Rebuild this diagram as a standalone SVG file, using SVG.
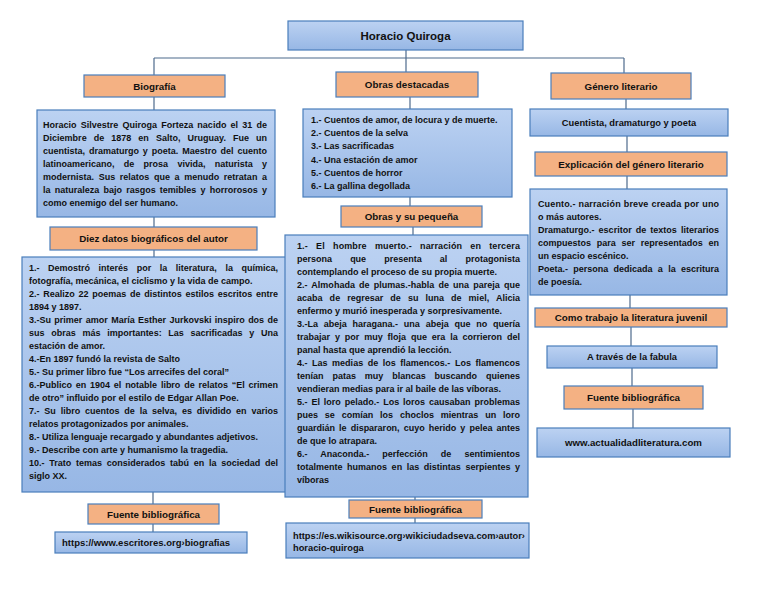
<svg xmlns="http://www.w3.org/2000/svg" width="768" height="594" viewBox="0 0 768 594">
<defs>
<linearGradient id="gb" x1="0" y1="0" x2="0" y2="1">
<stop offset="0" stop-color="#bcd2f2"/>
<stop offset="1" stop-color="#97b7e5"/>
</linearGradient>
</defs>
<style>
.bx{fill:url(#gb);stroke:#4a7ebb;stroke-width:1.2}
.ob{fill:#f4b183;stroke:#4a7ebb;stroke-width:1.2}
.t{font-family:"Liberation Sans",Arial,sans-serif;font-weight:bold;font-size:9px;fill:#111}
.h{font-size:9.8px;text-anchor:middle}
.m{text-anchor:middle}
.c line{stroke:#4d6a8c;stroke-width:1.2}
</style>
<rect width="768" height="594" fill="#fff"/>
<g class="c" id="connectors">
<line x1="406" y1="50" x2="406" y2="72"/>
<line x1="154" y1="58" x2="624" y2="58"/>
<line x1="154" y1="58" x2="154" y2="75"/>
<line x1="624" y1="58" x2="624" y2="73"/>
<line x1="154" y1="97" x2="154" y2="110"/>
<line x1="154" y1="217" x2="154" y2="227"/>
<line x1="154" y1="250" x2="154" y2="257"/>
<line x1="153" y1="492" x2="153" y2="504"/>
<line x1="153" y1="524" x2="153" y2="532"/>
<line x1="410" y1="97" x2="410" y2="109"/>
<line x1="410" y1="197" x2="410" y2="206"/>
<line x1="413" y1="227" x2="413" y2="235"/>
<line x1="415" y1="497" x2="415" y2="500"/>
<line x1="415" y1="518" x2="415" y2="523"/>
<line x1="626" y1="99" x2="626" y2="109"/>
<line x1="627" y1="136" x2="627" y2="152"/>
<line x1="627" y1="176" x2="627" y2="189"/>
<line x1="630" y1="295" x2="630" y2="308"/>
<line x1="631" y1="327" x2="631" y2="346"/>
<line x1="632" y1="368" x2="632" y2="386"/>
<line x1="633" y1="409" x2="633" y2="428"/>
</g>
<g id="title">
<rect class="bx" x="288" y="21" width="235" height="29"/>
<text class="t m" x="405.5" y="39.5" style="font-size:11.5px">Horacio Quiroga</text>
</g>
<g id="biografia">
<rect class="ob" x="84" y="75" width="141" height="22"/>
<text class="t h" x="154.5" y="89.5">Biografía</text>
</g>
<g id="obras-destacadas">
<rect class="ob" x="336" y="72" width="142" height="25"/>
<text class="t h" x="407" y="88">Obras destacadas</text>
</g>
<g id="genero-literario">
<rect class="ob" x="551" y="73" width="140" height="26"/>
<text class="t h" x="621" y="89.5">Género literario</text>
</g>
<g id="bio-texto">
<rect class="bx" x="37" y="110" width="238" height="107"/>
<text class="t" x="43" y="127.5" textLength="224" lengthAdjust="spacing" style="word-spacing:1.7px">Horacio Silvestre Quiroga Forteza nacido el 31 de</text>
<text class="t" x="43" y="140.5" textLength="224" lengthAdjust="spacing" style="word-spacing:4.5px">Diciembre de 1878 en Salto, Uruguay. Fue un</text>
<text class="t" x="43" y="153.5" textLength="224" lengthAdjust="spacing" style="word-spacing:1.4px">cuentista, dramaturgo y poeta. Maestro del cuento</text>
<text class="t" x="43" y="166.5" textLength="224" lengthAdjust="spacing" style="word-spacing:6.8px">latinoamericano, de prosa vivida, naturista y</text>
<text class="t" x="43" y="179.5" textLength="224" lengthAdjust="spacing" style="word-spacing:2.1px">modernista. Sus relatos que a menudo retratan a</text>
<text class="t" x="43" y="192.5" textLength="224" lengthAdjust="spacing" style="word-spacing:1.7px">la naturaleza bajo rasgos temibles y horrorosos y</text>
<text class="t" x="43" y="205.5">como enemigo del ser humano.</text>
</g>
<g id="diez-datos">
<rect class="ob" x="50" y="227" width="207" height="23"/>
<text class="t h" x="153.5" y="241.8">Diez datos biográficos del autor</text>
</g>
<g id="datos-lista">
<rect class="bx" x="22" y="257" width="264" height="235"/>
<text class="t" x="29" y="270.5" textLength="249" lengthAdjust="spacing" style="word-spacing:6.1px">1.- Demostró interés por la literatura, la química,</text>
<text class="t" x="29" y="283.5">fotografía, mecánica, el ciclismo y la vida de campo.</text>
<text class="t" x="29" y="296.5" textLength="249" lengthAdjust="spacing" style="word-spacing:1.2px">2.- Realizo 22 poemas de distintos estilos escritos entre</text>
<text class="t" x="29" y="309.5">1894 y 1897.</text>
<text class="t" x="29" y="322.5" textLength="249" lengthAdjust="spacing" style="word-spacing:0.9px">3.-Su primer amor María Esther Jurkovski inspiro dos de</text>
<text class="t" x="29" y="335.5" textLength="249" lengthAdjust="spacing" style="word-spacing:4.2px">sus obras más importantes: Las sacrificadas y Una</text>
<text class="t" x="29" y="348.5">estación de amor.</text>
<text class="t" x="29" y="361.5">4.-En 1897 fundó la revista de Salto</text>
<text class="t" x="29" y="374.5">5.- Su primer libro fue “Los arrecifes del coral”</text>
<text class="t" x="29" y="387.5" textLength="249" lengthAdjust="spacing" style="word-spacing:1.3px">6.-Publico en 1904 el notable libro de relatos “El crimen</text>
<text class="t" x="29" y="400.5">de otro” influido por el estilo de Edgar Allan Poe.</text>
<text class="t" x="29" y="413.5" textLength="249" lengthAdjust="spacing" style="word-spacing:2.3px">7.- Su libro cuentos de la selva, es dividido en varios</text>
<text class="t" x="29" y="426.5">relatos protagonizados por animales.</text>
<text class="t" x="29" y="439.5">8.- Utiliza lenguaje recargado y abundantes adjetivos.</text>
<text class="t" x="29" y="452.5">9.- Describe con arte y humanismo la tragedia.</text>
<text class="t" x="29" y="465.5" textLength="249" lengthAdjust="spacing" style="word-spacing:2.2px">10.- Trato temas considerados tabú en la sociedad del</text>
<text class="t" x="29" y="478.5">siglo XX.</text>
</g>
<g id="fuente-izq">
<rect class="ob" x="88" y="504" width="131" height="20"/>
<text class="t h" x="153.5" y="517.5">Fuente bibliográfica</text>
</g>
<g id="url-izq">
<rect class="bx" x="55" y="532" width="192" height="21"/>
<text class="t" x="62" y="546" style="font-size:9.5px">https://www.escritores.org›biografias</text>
</g>
<g id="obras-lista">
<rect class="bx" x="303" y="109" width="209" height="88"/>
<text class="t" x="311" y="123.2">1.- Cuentos de amor, de locura y de muerte.</text>
<text class="t" x="311" y="136.3">2.- Cuentos de la selva</text>
<text class="t" x="311" y="149.4">3.- Las sacrificadas</text>
<text class="t" x="311" y="162.5">4.- Una estación de amor</text>
<text class="t" x="311" y="175.6">5.- Cuentos de horror</text>
<text class="t" x="311" y="188.7">6.- La gallina degollada</text>
</g>
<g id="obras-pequena">
<rect class="ob" x="341" y="206" width="141" height="21"/>
<text class="t h" x="411.5" y="220">Obras y su pequeña</text>
</g>
<g id="obras-detalle">
<rect class="bx" x="285" y="235" width="243" height="262"/>
<text class="t" x="297" y="248.5" textLength="223" lengthAdjust="spacing" style="word-spacing:5.6px">1.- El hombre muerto.- narración en tercera</text>
<text class="t" x="297" y="261.5" textLength="223" lengthAdjust="spacing" style="word-spacing:15.6px">persona que presenta al protagonista</text>
<text class="t" x="297" y="274.5">contemplando el proceso de su propia muerte.</text>
<text class="t" x="297" y="287.5" textLength="223" lengthAdjust="spacing" style="word-spacing:1.6px">2.- Almohada de plumas.-habla de una pareja que</text>
<text class="t" x="297" y="300.5" textLength="223" lengthAdjust="spacing" style="word-spacing:4.5px">acaba de regresar de su luna de miel, Alicia</text>
<text class="t" x="297" y="313.5">enfermo y murió inesperada y sorpresivamente.</text>
<text class="t" x="297" y="326.5" textLength="223" lengthAdjust="spacing" style="word-spacing:3.3px">3.-La abeja haragana.- una abeja que no quería</text>
<text class="t" x="297" y="339.5" textLength="223" lengthAdjust="spacing" style="word-spacing:2.4px">trabajar y por muy floja que era la corrieron del</text>
<text class="t" x="297" y="352.5">panal hasta que aprendió la lección.</text>
<text class="t" x="297" y="365.5" textLength="223" lengthAdjust="spacing" style="word-spacing:2px">4.- Las medias de los flamencos.- Los flamencos</text>
<text class="t" x="297" y="378.5" textLength="223" lengthAdjust="spacing" style="word-spacing:6.4px">tenían patas muy blancas buscando quienes</text>
<text class="t" x="297" y="391.5">vendieran medias para ir al baile de las víboras.</text>
<text class="t" x="297" y="404.5" textLength="223" lengthAdjust="spacing" style="word-spacing:1.4px">5.- El loro pelado.- Los loros causaban problemas</text>
<text class="t" x="297" y="417.5" textLength="223" lengthAdjust="spacing" style="word-spacing:4.3px">pues se comían los choclos mientras un loro</text>
<text class="t" x="297" y="430.5" textLength="223" lengthAdjust="spacing" style="word-spacing:1.6px">guardián le dispararon, cuyo herido y pelea antes</text>
<text class="t" x="297" y="443.5">de que lo atrapara.</text>
<text class="t" x="297" y="456.5" textLength="223" lengthAdjust="spacing" style="word-spacing:10.5px">6.- Anaconda.- perfección de sentimientos</text>
<text class="t" x="297" y="469.5" textLength="223" lengthAdjust="spacing" style="word-spacing:2.1px">totalmente humanos en las distintas serpientes y</text>
<text class="t" x="297" y="482.5">víboras</text>
</g>
<g id="fuente-centro">
<rect class="ob" x="349" y="500" width="133" height="18"/>
<text class="t h" x="415.5" y="512.5">Fuente bibliográfica</text>
</g>
<g id="url-centro">
<rect class="bx" x="286" y="523" width="243" height="35"/>
<text class="t" x="293" y="538.5" style="font-size:9.3px">https://es.wikisource.org›wikiciudadseva.com›autor›</text>
<text class="t" x="293" y="551" style="font-size:9.3px">horacio-quiroga</text>
</g>
<g id="cuentista">
<rect class="bx" x="530" y="109" width="198" height="27"/>
<text class="t m" x="629" y="125.8" style="font-size:9.3px">Cuentista, dramaturgo y poeta</text>
</g>
<g id="explicacion">
<rect class="ob" x="535" y="152" width="192" height="24"/>
<text class="t h" x="631" y="167.5">Explicación del género literario</text>
</g>
<g id="explicacion-texto">
<rect class="bx" x="530" y="189" width="197" height="106"/>
<text class="t" x="538" y="206.5" textLength="181" lengthAdjust="spacing" style="word-spacing:0.4px">Cuento.- narración breve creada por uno</text>
<text class="t" x="538" y="219.5">o más autores.</text>
<text class="t" x="538" y="232.6" textLength="181" lengthAdjust="spacing" style="word-spacing:1.6px">Dramaturgo.- escritor de textos literarios</text>
<text class="t" x="538" y="245.6" textLength="181" lengthAdjust="spacing" style="word-spacing:3.2px">compuestos para ser representados en</text>
<text class="t" x="538" y="258.7">un espacio escénico.</text>
<text class="t" x="538" y="271.7" textLength="181" lengthAdjust="spacing" style="word-spacing:2.8px">Poeta.- persona dedicada a la escritura</text>
<text class="t" x="538" y="284.8">de poesía.</text>
</g>
<g id="como-trabajo">
<rect class="ob" x="535" y="308" width="192" height="19"/>
<text class="t h" x="631" y="321">Como trabajo la literatura juvenil</text>
</g>
<g id="fabula">
<rect class="bx" x="547" y="346" width="170" height="22"/>
<text class="t m" x="632" y="360.3" style="font-size:9.3px">A través de la fabula</text>
</g>
<g id="fuente-der">
<rect class="ob" x="564" y="386" width="139" height="23"/>
<text class="t h" x="633.5" y="401">Fuente bibliográfica</text>
</g>
<g id="url-der">
<rect class="bx" x="537" y="428" width="193" height="29"/>
<text class="t m" x="633.5" y="446.3" style="font-size:9.7px">www.actualidadliteratura.com</text>
</g>
</svg>
